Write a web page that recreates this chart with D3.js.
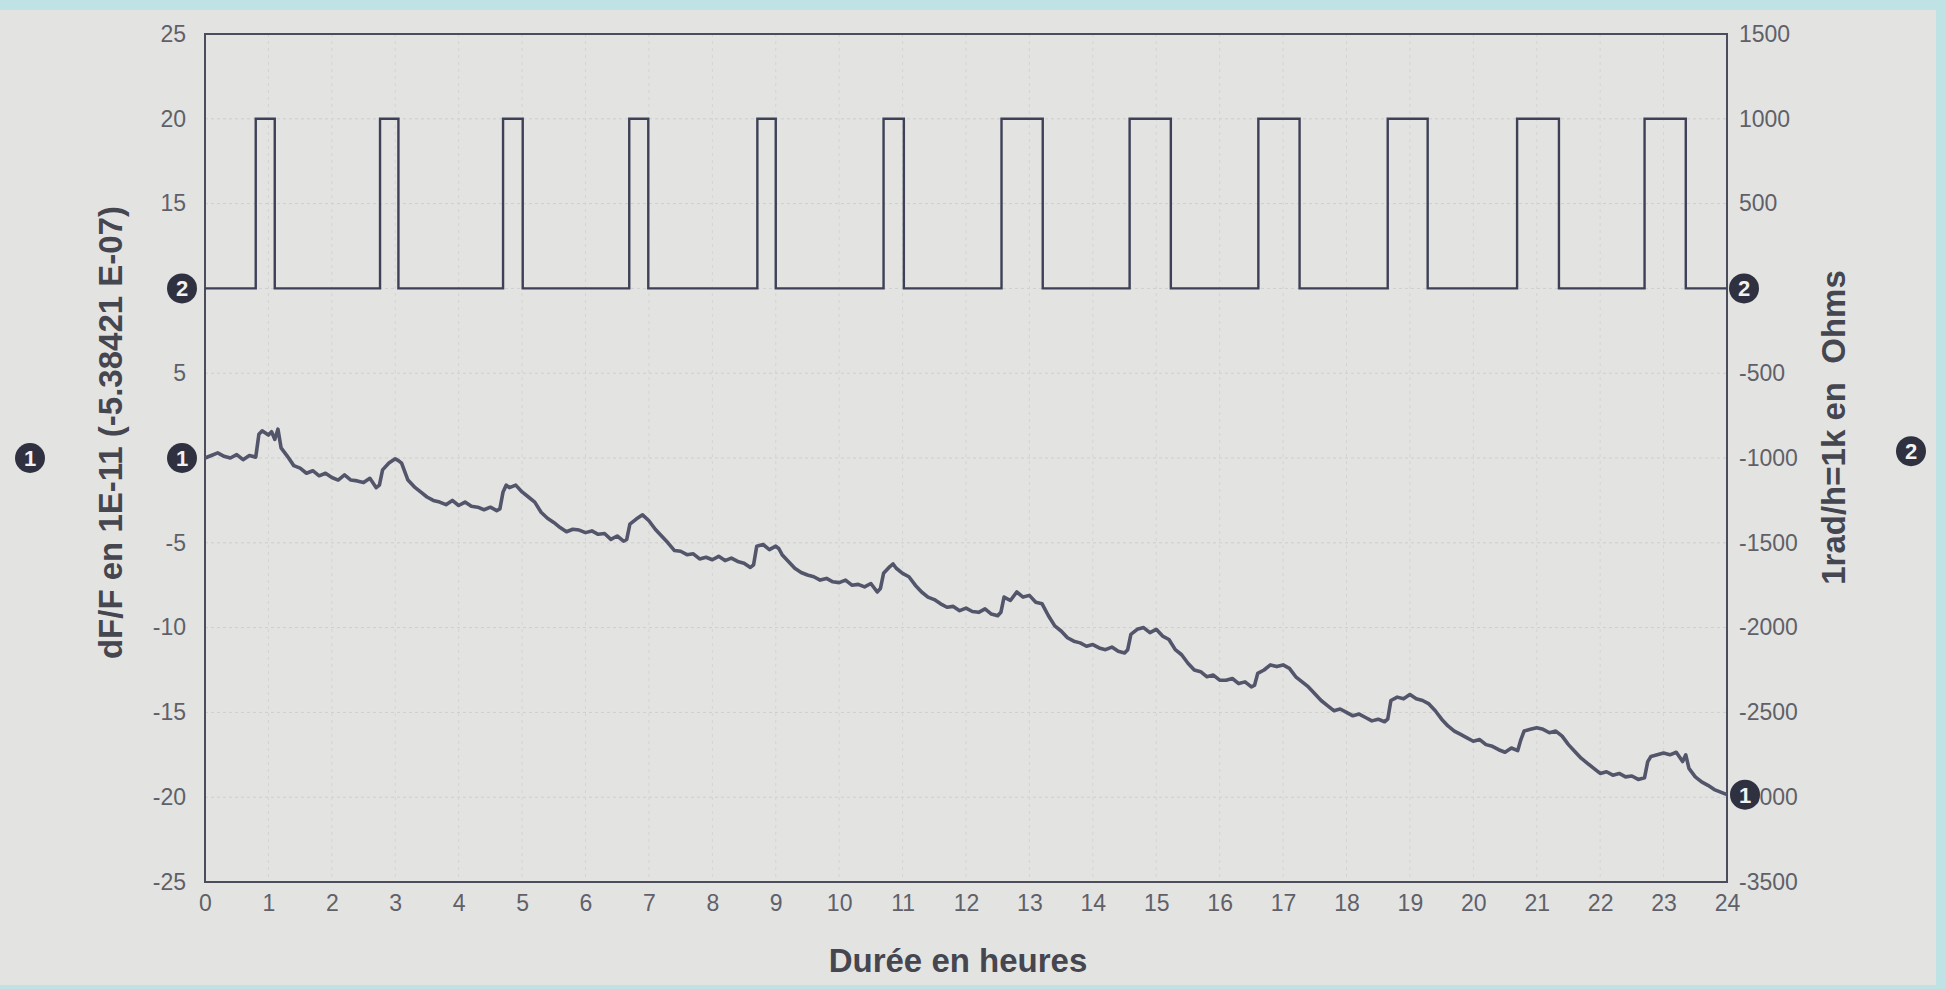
<!DOCTYPE html>
<html lang="fr">
<head>
  <meta charset="UTF-8">
  <title>dF/F et résistance sur 24 heures</title>
  <script src="https://d3js.org/d3.v7.min.js"></script>
  <style>
    body { margin: 0; background: #bfe2e4; }
    svg { display: block; font-family: "Liberation Sans", Arial, sans-serif; }
    .tick text { fill: #606068; font-size: 23px; }
    .axis-title { fill: #45464f; font-size: 33px; font-weight: bold; white-space: pre; }
  </style>
</head>
<body>
  <svg id="chart" width="1946" height="989"></svg>

  <script>
    // axe X : durée en heures
    const hourTicks = [0,1,2,3,4,5,6,7,8,9,10,11,12,13,14,15,16,17,18,19,20,21,22,23,24];
    // axe gauche dF/F (10 et 0 remplacés par les repères 2 et 1)
    const leftTicks = [25, 20, 15, 10, 5, 0, -5, -10, -15, -20, -25];
    const leftHidden = [10, 0];
    // axe droit en Ohms
    const rightTicks = [1500, 1000, 500, 0, -500, -1000, -1500, -2000, -2500, -3000, -3500];
    const rightHidden = [0];

    // courbe 2 : créneaux d'irradiation (Ohms)
    const pulseStarts = [0.80, 2.76, 4.70, 6.69, 8.71, 10.70, 12.56, 14.58, 16.61, 18.65, 20.69, 22.70];
    const pulseEnds   = [1.10, 3.05, 5.01, 6.99, 9.00, 11.02, 13.21, 15.23, 17.26, 19.28, 21.35, 23.35];
    const pulseHigh = 1000;
    const pulseLow = 0;

    // courbe 1 : dF/F en 1E-11, [heure, valeur]
    const dfSeries = [
      [0,0.0],[0.1,0.15],[0.2,0.3],[0.3,0.1],[0.4,0.0],[0.5,0.2],[0.6,-0.1],[0.7,0.15],[0.8,0.05],[0.85,1.4],[0.9,1.6],
      [1.0,1.35],[1.05,1.55],[1.1,1.1],[1.15,1.7],[1.2,0.6],[1.3,0.1],[1.4,-0.45],[1.5,-0.6],[1.6,-0.9],[1.7,-0.75],[1.8,-1.05],[1.9,-0.9],
      [2.0,-1.15],[2.1,-1.3],[2.2,-1.0],[2.3,-1.3],[2.4,-1.35],[2.5,-1.45],[2.6,-1.2],[2.7,-1.75],[2.75,-1.6],[2.8,-0.7],[2.9,-0.3],
      [3.0,-0.05],[3.05,-0.15],[3.1,-0.3],[3.2,-1.3],[3.3,-1.7],[3.4,-2.0],[3.5,-2.3],[3.6,-2.5],[3.7,-2.6],[3.8,-2.75],[3.9,-2.5],
      [4.0,-2.8],[4.1,-2.6],[4.2,-2.85],[4.3,-2.9],[4.4,-3.05],[4.5,-2.9],[4.6,-3.1],[4.65,-3.0],[4.7,-2.0],[4.75,-1.6],[4.8,-1.75],[4.9,-1.6],
      [5.0,-2.0],[5.1,-2.3],[5.2,-2.6],[5.3,-3.2],[5.4,-3.55],[5.5,-3.8],[5.6,-4.1],[5.7,-4.35],[5.8,-4.2],[5.9,-4.25],
      [6.0,-4.4],[6.1,-4.3],[6.2,-4.5],[6.3,-4.45],[6.4,-4.8],[6.5,-4.6],[6.6,-4.9],[6.65,-4.8],[6.7,-3.9],[6.8,-3.6],[6.9,-3.35],
      [7.0,-3.7],[7.1,-4.2],[7.2,-4.6],[7.3,-5.0],[7.4,-5.45],[7.5,-5.5],[7.6,-5.7],[7.7,-5.65],[7.8,-5.95],[7.9,-5.85],
      [8.0,-6.0],[8.1,-5.8],[8.2,-6.05],[8.3,-5.9],[8.4,-6.1],[8.5,-6.2],[8.6,-6.45],[8.65,-6.3],[8.7,-5.2],[8.8,-5.1],[8.9,-5.4],
      [9.0,-5.2],[9.05,-5.35],[9.1,-5.7],[9.2,-6.1],[9.3,-6.5],[9.4,-6.75],[9.5,-6.9],[9.6,-7.0],[9.7,-7.2],[9.8,-7.1],[9.9,-7.3],
      [10.0,-7.35],[10.1,-7.2],[10.2,-7.5],[10.3,-7.45],[10.4,-7.6],[10.5,-7.4],[10.6,-7.9],[10.65,-7.7],[10.7,-6.8],[10.8,-6.4],[10.85,-6.25],[10.9,-6.5],
      [11.0,-6.8],[11.1,-7.0],[11.2,-7.5],[11.3,-7.9],[11.4,-8.2],[11.5,-8.35],[11.6,-8.6],[11.7,-8.8],[11.8,-8.75],[11.9,-9.0],
      [12.0,-8.85],[12.1,-9.05],[12.2,-9.1],[12.3,-8.9],[12.4,-9.2],[12.5,-9.3],[12.55,-9.1],[12.6,-8.2],[12.7,-8.4],[12.8,-7.9],[12.9,-8.2],
      [13.0,-8.1],[13.1,-8.5],[13.2,-8.6],[13.3,-9.3],[13.4,-9.9],[13.5,-10.2],[13.6,-10.6],[13.7,-10.8],[13.8,-10.9],[13.9,-11.1],
      [14.0,-11.0],[14.1,-11.2],[14.2,-11.3],[14.3,-11.15],[14.4,-11.4],[14.5,-11.5],[14.55,-11.3],[14.6,-10.4],[14.7,-10.1],[14.8,-10.0],[14.9,-10.3],
      [15.0,-10.1],[15.1,-10.5],[15.2,-10.7],[15.3,-11.3],[15.4,-11.6],[15.5,-12.1],[15.6,-12.5],[15.7,-12.6],[15.8,-12.9],[15.9,-12.8],
      [16.0,-13.1],[16.1,-13.1],[16.2,-13.0],[16.3,-13.3],[16.4,-13.2],[16.5,-13.5],[16.55,-13.4],[16.6,-12.7],[16.7,-12.5],[16.8,-12.2],[16.9,-12.3],
      [17.0,-12.2],[17.1,-12.4],[17.2,-12.9],[17.3,-13.2],[17.4,-13.5],[17.5,-13.9],[17.6,-14.3],[17.7,-14.6],[17.8,-14.9],[17.9,-14.8],
      [18.0,-15.0],[18.1,-15.2],[18.2,-15.1],[18.3,-15.3],[18.4,-15.5],[18.5,-15.4],[18.6,-15.55],[18.65,-15.4],[18.7,-14.3],[18.8,-14.1],[18.9,-14.2],
      [19.0,-13.95],[19.1,-14.2],[19.2,-14.3],[19.3,-14.5],[19.4,-14.9],[19.5,-15.4],[19.6,-15.8],[19.7,-16.1],[19.8,-16.3],[19.9,-16.5],
      [20.0,-16.7],[20.1,-16.6],[20.2,-16.9],[20.3,-17.0],[20.4,-17.2],[20.5,-17.35],[20.6,-17.1],[20.7,-17.25],[20.75,-16.6],[20.8,-16.1],[20.9,-16.0],
      [21.0,-15.9],[21.1,-16.0],[21.2,-16.2],[21.3,-16.1],[21.4,-16.4],[21.5,-16.9],[21.6,-17.3],[21.7,-17.7],[21.8,-18.0],[21.9,-18.3],
      [22.0,-18.6],[22.1,-18.5],[22.2,-18.7],[22.3,-18.6],[22.4,-18.8],[22.5,-18.75],[22.6,-18.95],[22.7,-18.85],[22.75,-17.9],[22.8,-17.6],[22.9,-17.5],
      [23.0,-17.4],[23.1,-17.5],[23.2,-17.35],[23.3,-17.9],[23.35,-17.5],[23.4,-18.3],[23.5,-18.8],[23.6,-19.1],[23.7,-19.3],[23.8,-19.55],[23.9,-19.7],
      [24.0,-19.85]
    ];

    const svg = d3.select("#chart");
    const plot = { left: 205, right: 1727, top: 34, bottom: 882 };

    // fond gris de la page photographiée
    svg.append("rect")
      .attr("x", 0).attr("y", 10)
      .attr("width", 1936).attr("height", 975)
      .attr("fill", "#e3e4e2");

    const x = d3.scaleLinear().domain([0, 24]).range([plot.left, plot.right]);
    const yL = d3.scaleLinear().domain([-25, 25]).range([plot.bottom, plot.top]);
    const yR = d3.scaleLinear().domain([-3500, 1500]).range([plot.bottom, plot.top]);

    // grille
    svg.append("g")
      .selectAll("line")
      .data(leftTicks.filter(d => d > -25 && d < 25))
      .join("line")
      .attr("x1", plot.left).attr("x2", plot.right)
      .attr("y1", d => yL(d)).attr("y2", d => yL(d))
      .attr("stroke", "#cdcecd").attr("stroke-width", 1).attr("stroke-dasharray", "3,3");

    svg.append("g")
      .selectAll("line")
      .data(hourTicks.filter(d => d > 0 && d < 24))
      .join("line")
      .attr("x1", d => x(d)).attr("x2", d => x(d))
      .attr("y1", plot.top).attr("y2", plot.bottom)
      .attr("stroke", "#d3d4d3").attr("stroke-width", 1).attr("stroke-dasharray", "3,4");

    // axes
    const xAxis = svg.append("g")
      .attr("transform", `translate(0,${plot.bottom})`)
      .call(d3.axisBottom(x).tickValues(hourTicks).tickSize(0).tickPadding(13));
    const leftAxis = svg.append("g")
      .attr("transform", `translate(${plot.left},0)`)
      .call(d3.axisLeft(yL).tickValues(leftTicks).tickSize(0).tickPadding(19)
        .tickFormat(d => leftHidden.includes(d) ? "" : d));
    const rightAxis = svg.append("g")
      .attr("transform", `translate(${plot.right},0)`)
      .call(d3.axisRight(yR).tickValues(rightTicks).tickSize(0).tickPadding(12)
        .tickFormat(d => rightHidden.includes(d) ? "" : d));
    [xAxis, leftAxis, rightAxis].forEach(a => a.select(".domain").remove());
    svg.selectAll(".tick text").attr("font-family", null).attr("font-size", null);

    // cadre
    svg.append("rect")
      .attr("x", plot.left).attr("y", plot.top)
      .attr("width", plot.right - plot.left).attr("height", plot.bottom - plot.top)
      .attr("fill", "none").attr("stroke", "#4b4d5c").attr("stroke-width", 2);

    // courbe 2 en créneaux
    const stepPoints = [[0, pulseLow]];
    pulseStarts.forEach((s, i) => {
      stepPoints.push([s, pulseLow], [s, pulseHigh], [pulseEnds[i], pulseHigh], [pulseEnds[i], pulseLow]);
    });
    stepPoints.push([24, pulseLow]);

    svg.append("path")
      .datum(stepPoints)
      .attr("fill", "none")
      .attr("stroke", "#3d4056")
      .attr("stroke-width", 2.4)
      .attr("d", d3.line().x(d => x(d[0])).y(d => yR(d[1])));

    // courbe 1
    svg.append("path")
      .datum(dfSeries)
      .attr("fill", "none")
      .attr("stroke", "#53556a")
      .attr("stroke-width", 3.6)
      .attr("stroke-linejoin", "round")
      .attr("d", d3.line().x(d => x(d[0])).y(d => yL(d[1])));

    // titres des axes
    svg.append("text")
      .attr("class", "axis-title")
      .attr("x", 958).attr("y", 972)
      .attr("text-anchor", "middle")
      .text("Durée en heures");

    svg.append("text")
      .attr("class", "axis-title")
      .attr("transform", `translate(122,${yL(1.5)}) rotate(-90)`)
      .attr("text-anchor", "middle")
      .text("dF/F en 1E-11 (-5.38421 E-07)");

    svg.append("text")
      .attr("class", "axis-title")
      .attr("transform", `translate(1845,${yL(1.8)}) rotate(-90)`)
      .attr("text-anchor", "middle")
      .text("1rad/h=1k en  Ohms");

    // repères numérotés
    const last = dfSeries[dfSeries.length - 1];
    const markers = [
      { n: "2", cx: plot.left - 23, cy: yL(10) },
      { n: "1", cx: plot.left - 23, cy: yL(0) },
      { n: "2", cx: plot.right + 17, cy: yR(0) },
      { n: "1", cx: plot.right + 18, cy: yL(last[1]) },
      { n: "1", cx: 30, cy: yL(0) },
      { n: "2", cx: 1911, cy: yL(0.4) }
    ];
    const mk = svg.append("g").selectAll("g").data(markers).join("g")
      .attr("transform", d => `translate(${d.cx},${d.cy})`);
    mk.append("circle").attr("r", 15).attr("fill", "#2f3140");
    mk.append("text")
      .attr("text-anchor", "middle").attr("dy", "0.36em")
      .attr("fill", "#f2f2f2").attr("font-size", "22px").attr("font-weight", "bold")
      .text(d => d.n);
  </script>
</body>
</html>
